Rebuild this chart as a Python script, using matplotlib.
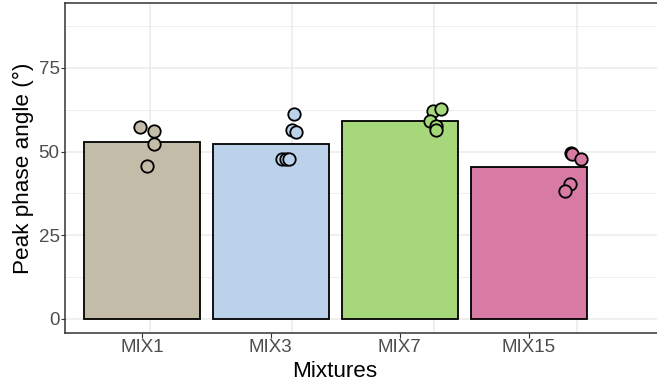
import matplotlib
matplotlib.use("Agg")
import matplotlib.pyplot as plt
import numpy as np

plt.rcParams['font.family'] = ['Liberation Sans', 'DejaVu Sans']

categories = ["MIX1", "MIX3", "MIX7", "MIX15"]
bar_means = [52.9, 52.4, 59.2, 45.5]
colors = ["#C3BCA8", "#BCD2EB", "#A7D77B", "#D77AA4"]

# individual observations per mixture
obs_values = [
    [57.4, 56.3, 52.3, 45.8],
    [61.2, 56.5, 56.0, 47.8, 47.8, 47.8],
    [62.2, 62.6, 59.0, 57.7, 56.5],
    [49.7, 49.4, 47.7, 40.2, 38.2],
]
# horizontal jitter (category units)
obs_jitter = [
    [-0.07, 0.03, 0.03, -0.02],
    [0.01, 0.00, 0.03, -0.07, -0.045, -0.02],
    [-0.01, 0.05, -0.03, 0.01, 0.01],
    [-0.04, -0.03, 0.03, -0.05, -0.08],
]

W, H = 657, 392
fig = plt.figure(figsize=(W / 100, H / 100), dpi=100)

left_px, top_px, bot_px = 64.5, 3, 333
wide_right_px = 662
narrow_right_px = 606
ylim = (-4.2, 94.4)

def rect(l, r):
    return [l / W, (H - bot_px) / H, (r - l) / W, (bot_px - top_px) / H]

# wide panel: grid, frame, y axis, points
ax = fig.add_axes(rect(left_px, wide_right_px))
ax.set_xlim(0.4, len(categories) + 0.6)
ax.set_ylim(*ylim)
ax.set_yticks([0, 25, 50, 75])
ax.set_yticks([12.5, 37.5, 62.5, 87.5], minor=True)
ax.set_xticks(np.arange(1, len(categories) + 1))
ax.tick_params(axis='x', which='both', length=0, labelbottom=False)
ax.tick_params(axis='y', which='minor', length=0)
ax.tick_params(axis='y', which='major', length=3, width=0.8, color='#333333',
               labelsize=13.5, labelcolor='#4D4D4D', pad=0.5)
ax.grid(True, which='major', color='#EBEBEB', lw=1.1)
ax.grid(True, which='minor', axis='y', color='#EBEBEB', lw=0.6)
ax.set_axisbelow(True)
for s in ax.spines.values():
    s.set_color('#333333')
    s.set_linewidth(1.1)
ax.set_zorder(0)
ax.set_ylabel("Peak phase angle (°)", fontsize=16.2, labelpad=3)

# narrow panel: bars and x axis
axb = fig.add_axes(rect(left_px, narrow_right_px))
axb.patch.set_alpha(0)
axb.set_xlim(0.4, len(categories) + 0.6)
axb.set_ylim(*ylim)
xpos = np.arange(1, len(categories) + 1)
axb.bar(xpos, bar_means, width=0.9, color=colors, edgecolor='black', linewidth=1.3, zorder=2)
axb.set_xticks(xpos)
axb.set_xticklabels(categories)
axb.tick_params(axis='x', length=3.5, width=0.8, color='#333333', labelsize=13.5,
                labelcolor='#4D4D4D', pad=0.5)
axb.set_yticks([])
for s in axb.spines.values():
    s.set_visible(False)
axb.set_xlabel("Mixtures", fontsize=16.2, labelpad=4)
axb.set_zorder(1)

# points overlay (wide scale)
axp = fig.add_axes(rect(left_px, wide_right_px))
axp.patch.set_alpha(0)
axp.set_xlim(0.4, len(categories) + 0.6)
axp.set_ylim(*ylim)
axp.axis('off')
axp.set_zorder(2)
for i, (vals, jit) in enumerate(zip(obs_values, obs_jitter)):
    xs = i + 1 + np.array(jit)
    axp.scatter(xs, vals, s=80, facecolor=colors[i], edgecolor='black', linewidth=1.3, zorder=3)

fig.savefig("out.png", dpi=100)
